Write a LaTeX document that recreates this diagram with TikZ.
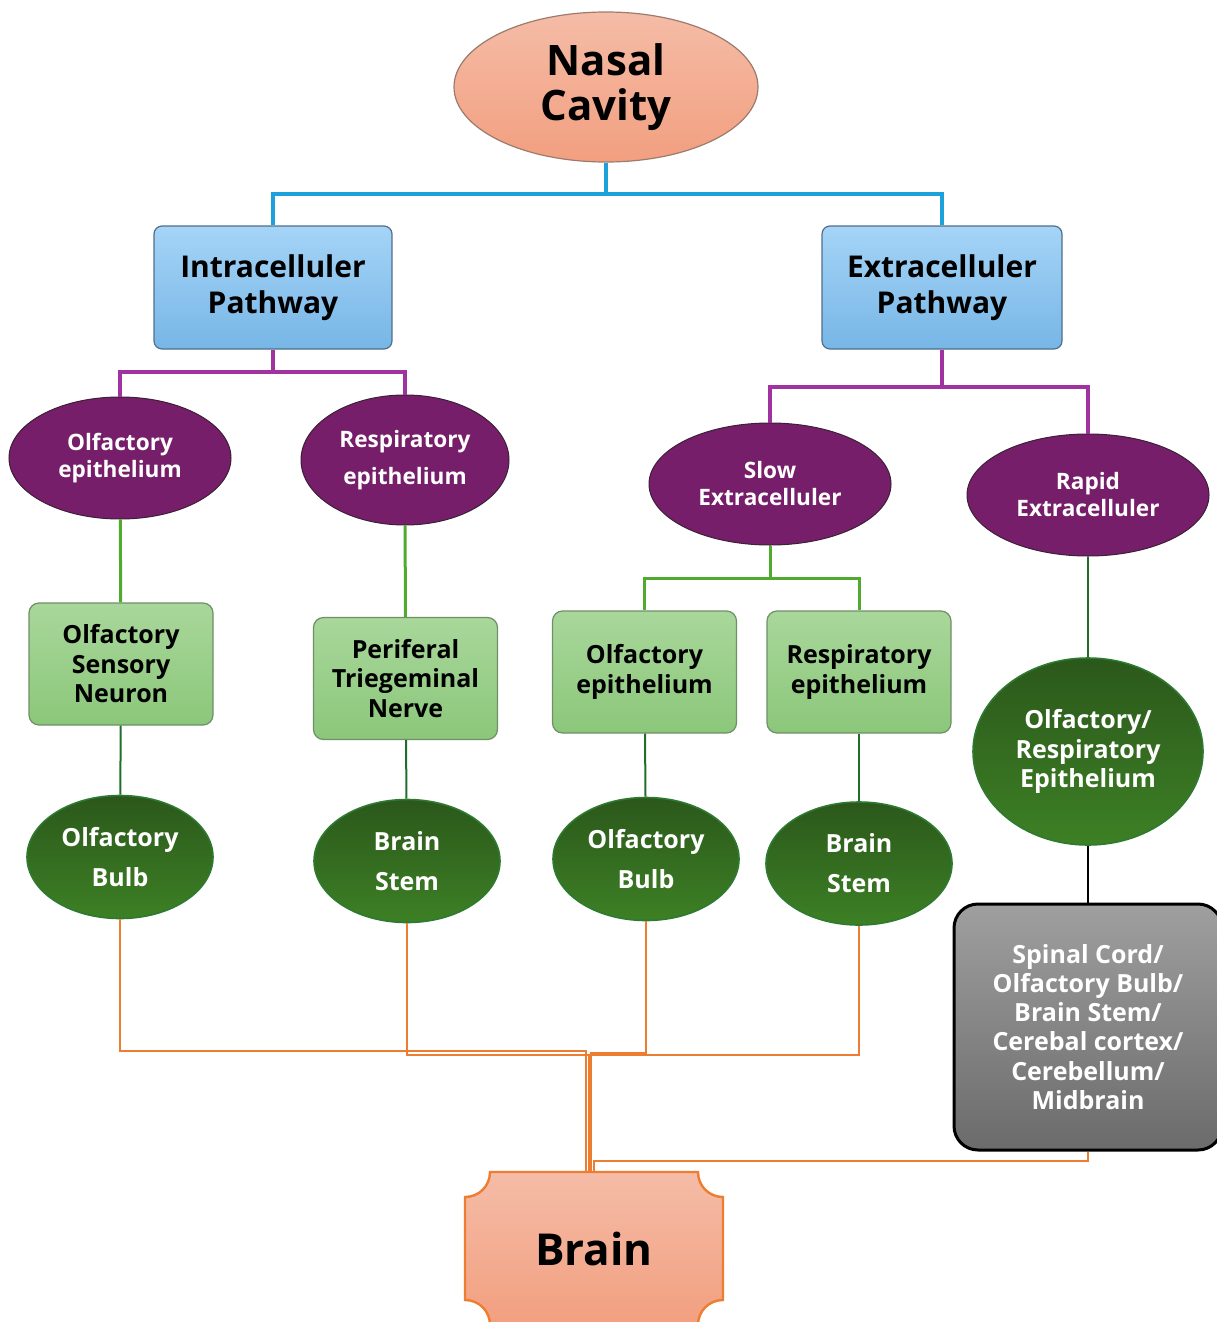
\documentclass[tikz,border=0pt]{standalone}
\usepackage{fontspec}
\setmainfont{Open Sans}
\usetikzlibrary{shapes.geometric}

\definecolor{salmonA}{HTML}{F5BCA7}
\definecolor{salmonB}{HTML}{F29F7F}
\definecolor{nasaledge}{HTML}{9C7B6E}
\definecolor{skyA}{HTML}{A5D4F7}
\definecolor{skyB}{HTML}{77B6E6}
\definecolor{skyedge}{HTML}{4F6F8C}
\definecolor{plum}{HTML}{761E6A}
\definecolor{plumedge}{HTML}{3B2036}
\definecolor{leafA}{HTML}{A9D79B}
\definecolor{leafB}{HTML}{8BC77A}
\definecolor{leafedge}{HTML}{6F8F67}
\definecolor{forestA}{HTML}{2B581B}
\definecolor{forestB}{HTML}{3D8025}
\definecolor{forestedge}{HTML}{2D7A30}
\definecolor{stoneA}{HTML}{9F9F9F}
\definecolor{stoneB}{HTML}{6B6B6B}
\definecolor{bluelink}{HTML}{1DA1DB}
\definecolor{plumlink}{HTML}{A0339F}
\definecolor{leaflink}{HTML}{4FAA2E}
\definecolor{forestlink}{HTML}{1F6F2A}
\definecolor{orangelink}{HTML}{ED7D31}

\begin{document}
\begin{tikzpicture}[x=0.5pt,y=-0.5pt,
  every node/.style={align=center, inner sep=0pt},
  cavity/.style={ellipse, draw=nasaledge, line width=0.6pt, top color=salmonA, bottom color=salmonB,
    font=\bfseries\fontsize{21}{22.5}\selectfont},
  pathway/.style={rectangle, rounded corners=4pt, draw=skyedge, line width=0.6pt, top color=skyA, bottom color=skyB,
    minimum height=61.5pt, font=\bfseries\fontsize{15}{18}\selectfont},
  route/.style={ellipse, draw=plumedge, line width=0.5pt, fill=plum, text=white, minimum width=121pt, minimum height=61pt,
    font=\bfseries\fontsize{11.3}{13.5}\selectfont},
  tissue/.style={rectangle, rounded corners=5pt, draw=leafedge, line width=0.6pt, top color=leafA, bottom color=leafB,
    minimum width=92pt, minimum height=61pt, font=\bfseries\fontsize{12.5}{14.75}\selectfont},
  target/.style={ellipse, draw=forestedge, line width=0.8pt, top color=forestA, bottom color=forestB, text=white,
    minimum width=93pt, minimum height=61.5pt, font=\bfseries\fontsize{12.5}{20}\selectfont},
  blueline/.style={draw=bluelink, line width=2pt},
  plumline/.style={draw=plumlink, line width=1.6pt},
  leafline/.style={draw=leaflink, line width=1.5pt},
  forestline/.style={draw=forestlink, line width=1pt},
  orangeline/.style={draw=orangelink, line width=1.2pt}]

\useasboundingbox (0,0) rectangle (1216,1322);

\node[cavity, minimum width=152pt, minimum height=75pt] (nasal) at (606,87) {Nasal\\Cavity};

\node[pathway, minimum width=119pt] (intra) at (273,287.5) {Intracelluler\\Pathway};
\node[pathway, minimum width=120pt] (extra) at (942,287.5) {Extracelluler\\Pathway};

\node[route, minimum width=111pt] (olfepi) at (120,458) {Olfactory\\epithelium};
\node[route, minimum width=104pt, minimum height=65pt, font=\bfseries\fontsize{11.3}{18.5}\selectfont] (respepi) at (405,460) {Respiratory\\epithelium};
\node[route] (slow) at (770,484) {Slow\\Extracelluler};
\node[route] (rapid) at (1088,495) {Rapid\\Extracelluler};

\node[tissue] (neuron) at (121,664) {Olfactory\\Sensory\\Neuron};
\node[tissue] (periferal) at (405.5,678.5) {Periferal\\Triegeminal\\Nerve};
\node[tissue] (olfbox) at (644.5,672) {Olfactory\\epithelium};
\node[tissue] (respbox) at (859,672) {Respiratory\\epithelium};

\node[target] (bulbA) at (120,857) {Olfactory\\Bulb};
\node[target] (stemA) at (407,861) {Brain\\Stem};
\node[target] (bulbB) at (646,859) {Olfactory\\Bulb};
\node[target] (stemB) at (859,863.5) {Brain\\Stem};
\node[target, minimum width=115pt, minimum height=93.5pt, font=\bfseries\fontsize{12.5}{14.75}\selectfont] (olfresp) at (1088,751.5) {Olfactory/\\Respiratory\\Epithelium};

\node[rectangle, rounded corners=12pt, draw=black, line width=1.5pt, top color=stoneA, bottom color=stoneB, text=white,
  minimum width=134pt, minimum height=123pt, font=\bfseries\fontsize{12.5}{14.6}\selectfont] (spinal) at (1088,1027)
  {Spinal Cord/\\Olfactory Bulb/\\Brain Stem/\\Cerebal cortex/\\Cerebellum/\\Midbrain};

\draw[draw=orangelink, line width=1.2pt, top color=salmonA, bottom color=salmonB]
  (490,1172) -- (698,1172) .. controls (698,1186) and (709,1197) .. (723,1197)
  -- (723,1300) .. controls (709,1300) and (698,1311) .. (698,1325)
  -- (490,1325) .. controls (490,1311) and (479,1300) .. (465,1300)
  -- (465,1197) .. controls (479,1197) and (490,1186) .. cycle;
\node[minimum width=129pt, minimum height=76.5pt, font=\bfseries\fontsize{22}{24}\selectfont] (brain) at (594,1248.5) {Brain};

\coordinate (cavitysplit) at (606,194);
\draw[blueline] (nasal) -- (cavitysplit) -| (intra);
\draw[blueline] (cavitysplit) -| (extra);

\coordinate (intrasplit) at (273,372);
\coordinate (extrasplit) at (942,387);
\draw[plumline] (intra) -- (intrasplit) -| (olfepi);
\draw[plumline] (intrasplit) -| (respepi);
\draw[plumline] (extra) -- (extrasplit) -| (slow);
\draw[plumline] (extrasplit) -| (rapid);

\coordinate (slowsplit) at (770,578);
\draw[leafline] (olfepi) -- (neuron);
\draw[leafline] (respepi) -- (periferal);
\draw[leafline] (slow) -- (slowsplit) -| (olfbox);
\draw[leafline] (slowsplit) -| (respbox);
\draw[forestline, line width=1.3pt] (rapid) -- (olfresp);

\draw[forestline] (neuron) -- (bulbA);
\draw[forestline] (periferal) -- (stemA);
\draw[forestline] (olfbox) -- (bulbB);
\draw[forestline] (respbox) -- (stemB);
\draw[black, line width=1pt] (olfresp) -- (spinal);

\coordinate (joinA) at (586,1051);
\coordinate (joinB) at (589,1055);
\coordinate (joinC) at (591,1053);
\coordinate (joinD) at (591,1055);
\coordinate (joinE) at (594,1161);
\draw[orangeline] (bulbA) |- (joinA) -- (joinA |- brain.north);
\draw[orangeline] (stemA) |- (joinB) -- (joinB |- brain.north);
\draw[orangeline] (bulbB) |- (joinC) -- (joinC |- brain.north);
\draw[orangeline] (stemB) |- (joinD);
\draw[orangeline] (spinal) |- (joinE) -- (joinE |- brain.north);
\end{tikzpicture}
\end{document}
